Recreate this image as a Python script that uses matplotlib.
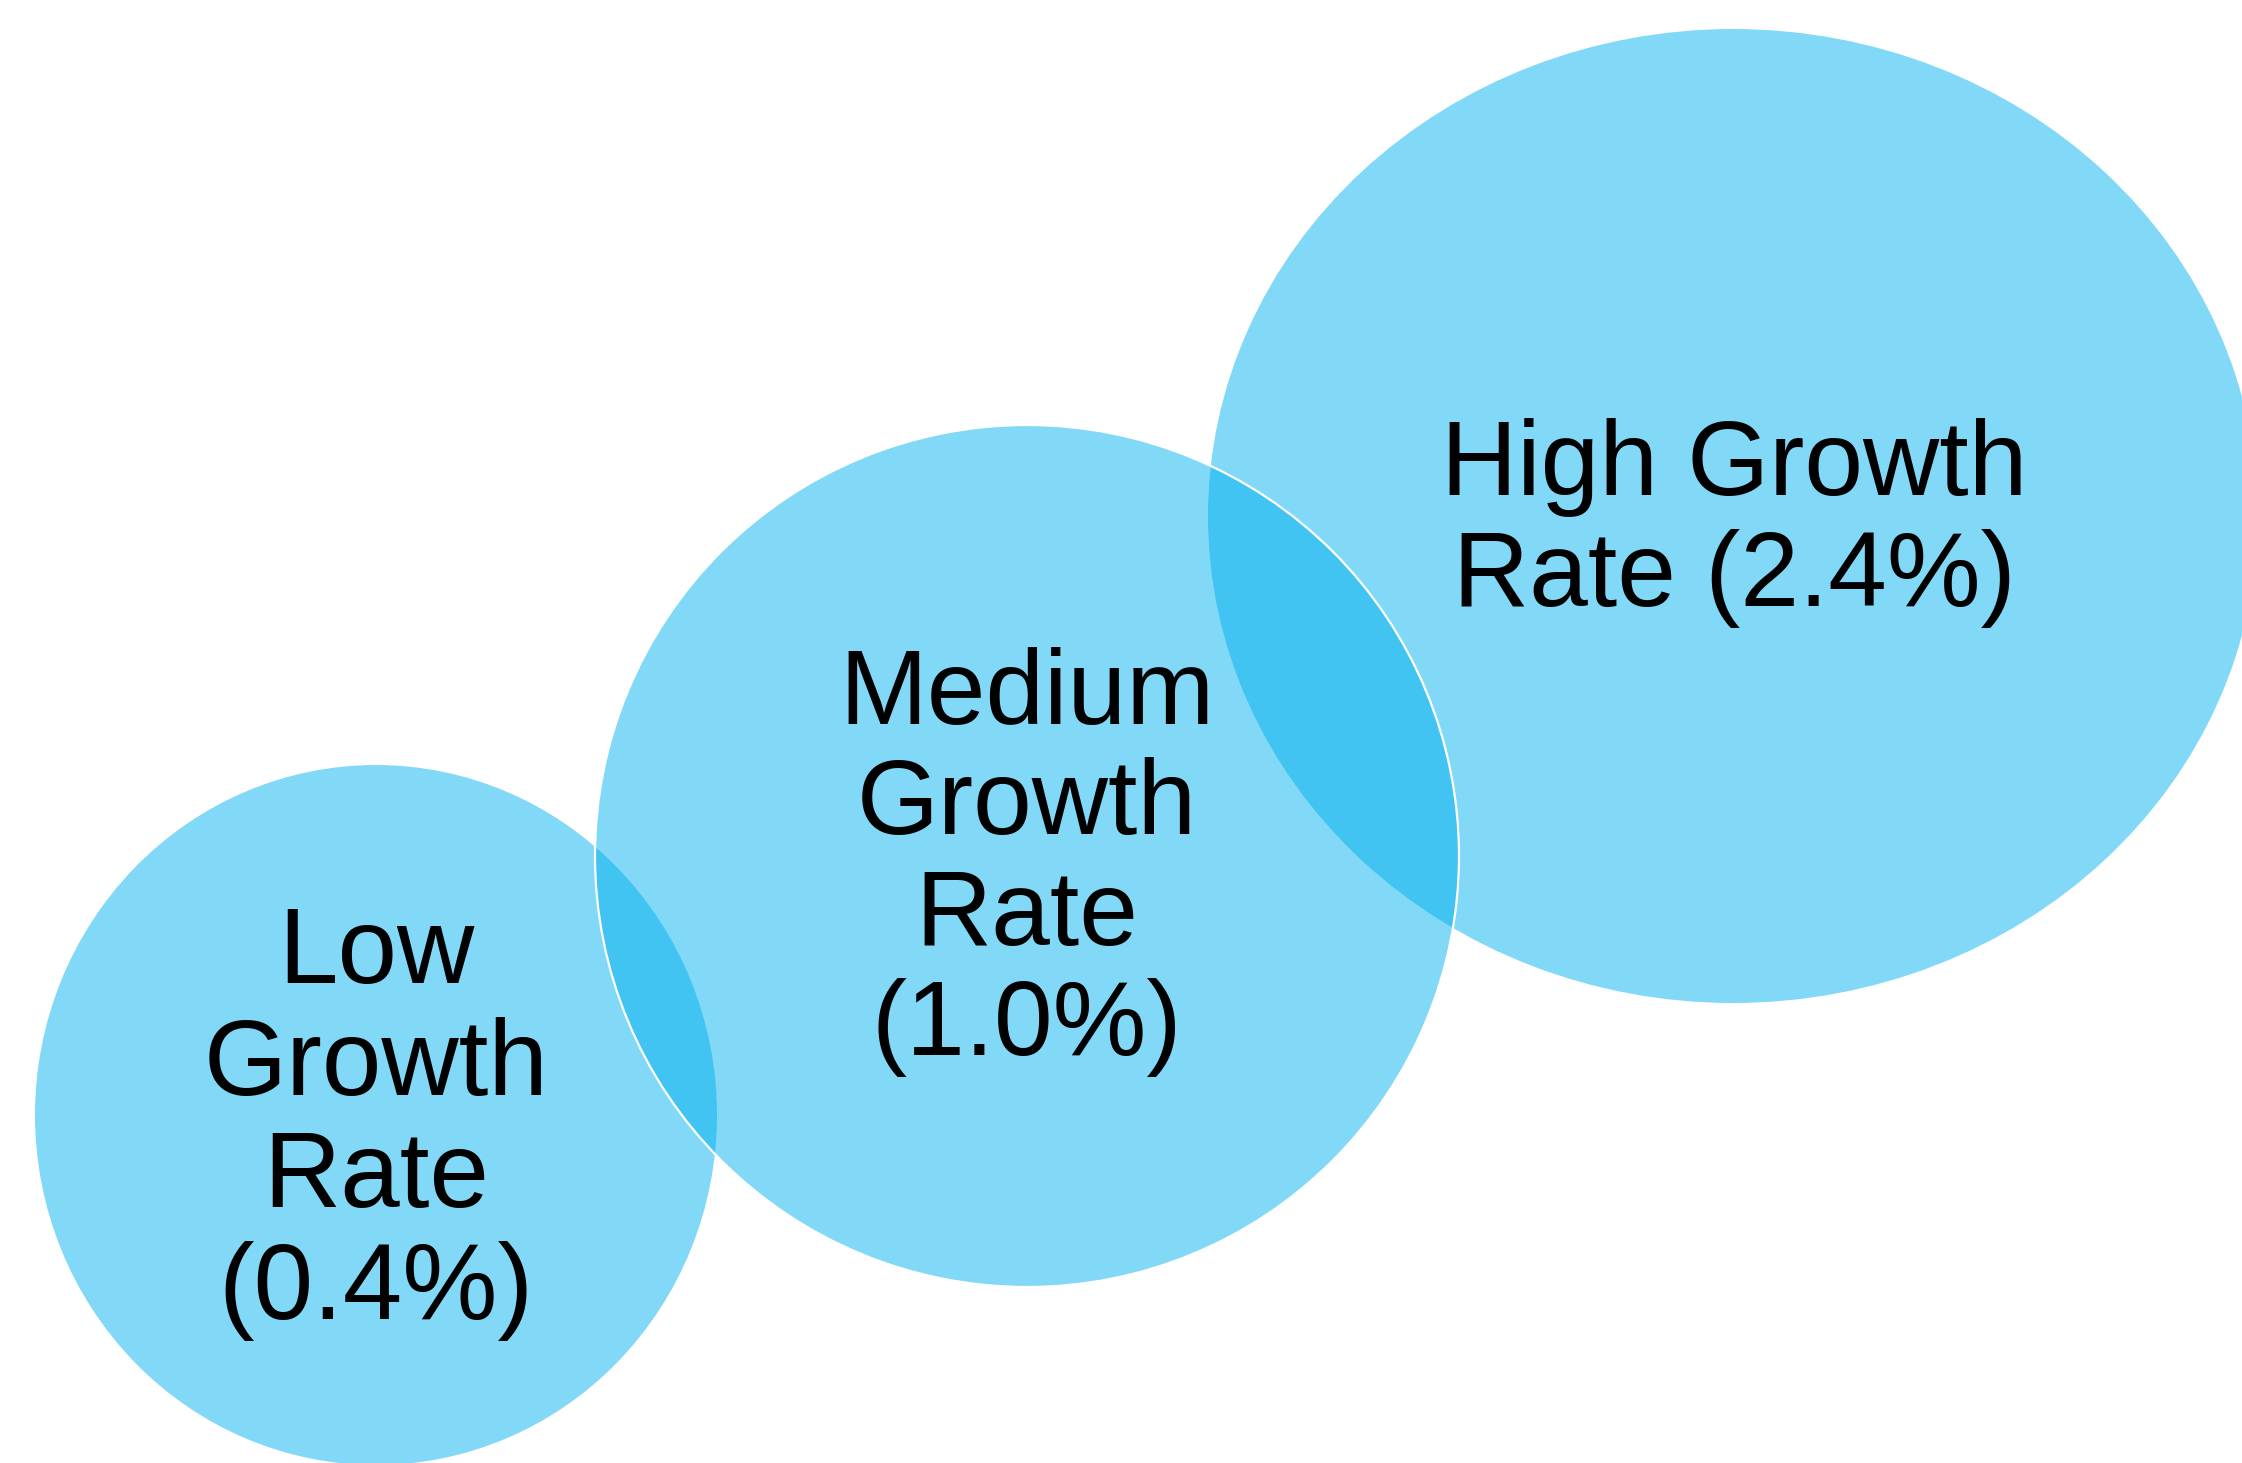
import matplotlib.pyplot as plt
from matplotlib.patches import Ellipse

# bubble labels and growth rates
names = ["Low Growth Rate", "Medium Growth Rate", "High Growth Rate"]
rates = [0.4, 1.0, 2.4]

# label wrapping used in the picture
label_lines = [
    ["Low", "Growth", "Rate", "({:.1f}%)"],
    ["Medium", "Growth", "Rate", "({:.1f}%)"],
    ["High Growth", "Rate ({:.1f}%)"],
]

# layout in pixel units (axes spans the whole figure)
W, H = 2242, 1463
centers = [(376, 1115), (1027, 856), (1733, 516)]
radii = [(341, 350), (432, 431), (525, 487)]
text_pos = [(376, 1123), (1027, 862), (1734, 523)]
font_sizes = [77, 76, 76]
draw_order = [0, 2, 1]

fill_color = '#00B0F0'

fig = plt.figure(figsize=(W / 100, H / 100), dpi=100)
ax = fig.add_axes([0, 0, 1, 1])
ax.set_xlim(0, W)
ax.set_ylim(H, 0)
ax.axis('off')

for z, i in enumerate(draw_order):
    rx, ry = radii[i]
    ax.add_patch(Ellipse(centers[i], 2 * rx, 2 * ry, facecolor=fill_color,
                         alpha=0.49, edgecolor='none', zorder=1 + z))
    if i == 1:
        # only the middle bubble shows a thin white rim
        ax.add_patch(Ellipse(centers[i], 2 * rx, 2 * ry, facecolor='none',
                             edgecolor='white', linewidth=1.6, zorder=1 + z))

for i, name in enumerate(names):
    txt = "\n".join(line.format(rates[i]) for line in label_lines[i])
    ax.text(text_pos[i][0], text_pos[i][1], txt, ha='center', va='center',
            multialignment='center', fontsize=font_sizes[i],
            family='Liberation Sans', linespacing=1.15, color='black', zorder=10)

fig.savefig('out.png', dpi=100, facecolor='white')
